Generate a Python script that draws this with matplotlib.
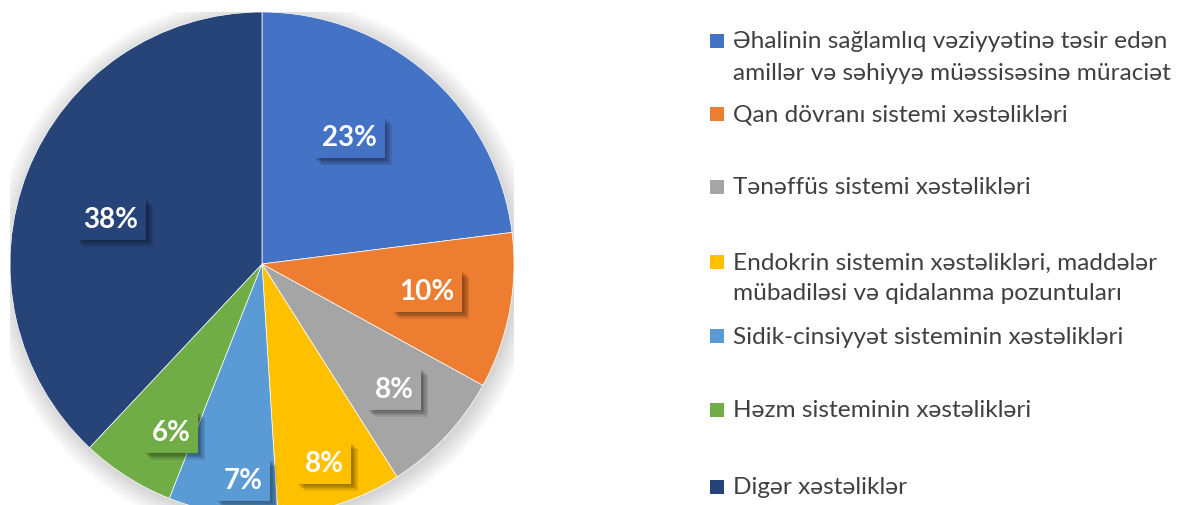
import matplotlib
matplotlib.use("Agg")
import matplotlib.pyplot as plt
import matplotlib.patheffects as pe
from matplotlib.patches import Circle, Rectangle

# data
categories = [
    "Əhalinin sağlamlıq vəziyyətinə təsir edən\namillər və səhiyyə müəssisəsinə müraciət",
    "Qan dövranı sistemi xəstəlikləri",
    "Tənəffüs sistemi xəstəlikləri",
    "Endokrin sistemin xəstəlikləri, maddələr\nmübadiləsi və qidalanma pozuntuları",
    "Sidik-cinsiyyət sisteminin xəstəlikləri",
    "Həzm sisteminin xəstəlikləri",
    "Digər xəstəliklər",
]
shares = [23, 10, 8, 8, 7, 6, 38]
colors = ["#4472C4", "#ED7D31", "#A5A5A5", "#FFC000", "#5B9BD5", "#70AD47", "#264478"]

# layout (pixels in the 1179x506 canvas)
W, H = 1179, 506
cx, cy, r = 262, 265, 252
# label box centres, in pie-radius units (Excel "best fit" spots)
label_xy = [(0.347, 0.502), (0.655, -0.107), (0.524, -0.496), (0.246, -0.790),
            (-0.075, -0.857), (-0.361, -0.667), (-0.599, 0.179)]
legend_y = [42, 115, 188, 263, 337, 411, 488]
line_gap = 31

plt.rcParams["font.family"] = ["Lato", "DejaVu Sans"]

fig = plt.figure(figsize=(W / 100, H / 100), dpi=100)
ax = fig.add_axes([(cx - r) / W, (H - cy - r) / H, 2 * r / W, 2 * r / H])

# soft shadow around the pie
for k in range(14):
    ax.add_patch(Circle((0.008, -0.012), 1.0 + k * 0.006, color="black",
                        alpha=0.012, lw=0, zorder=0))

wedges, _ = ax.pie(shares, colors=colors, startangle=90, counterclock=False,
                   radius=1, wedgeprops=dict(edgecolor="white", linewidth=0.5))
for w in wedges:
    w.set_zorder(2)

# blurred-looking drop shadow: a few faint offset copies
box_shadow = [pe.SimplePatchShadow(offset=(o, -o), shadow_rgbFace="black", alpha=0.09)
              for o in (1, 2, 3, 4, 5)] + [pe.Normal()]

for (x, y), s, c in zip(label_xy, shares, colors):
    t = ax.text(x, y, f"{s}%", color="white", fontsize=20, fontweight="bold",
                ha="center", va="center", zorder=5,
                bbox=dict(boxstyle="square,pad=0.28", fc=c, ec="none"))
    t.get_bbox_patch().set_path_effects(box_shadow)

ax.set_xlim(-1, 1)
ax.set_ylim(-1, 1)
ax.set_aspect("equal")
ax.axis("off")

# legend drawn by hand to follow the reference spacing
for label, c, y in zip(categories, colors, legend_y):
    fig.patches.append(Rectangle((710 / W, 1 - (y + 7) / H), 14 / W, 14 / H,
                                 transform=fig.transFigure, fc=c, ec="none"))
    for i, line in enumerate(label.split("\n")):
        fig.text(733 / W, 1 - (y + i * line_gap) / H, line, fontsize=17.6,
                 color="#404040", ha="left", va="center")

fig.savefig("out.png", dpi=100)
